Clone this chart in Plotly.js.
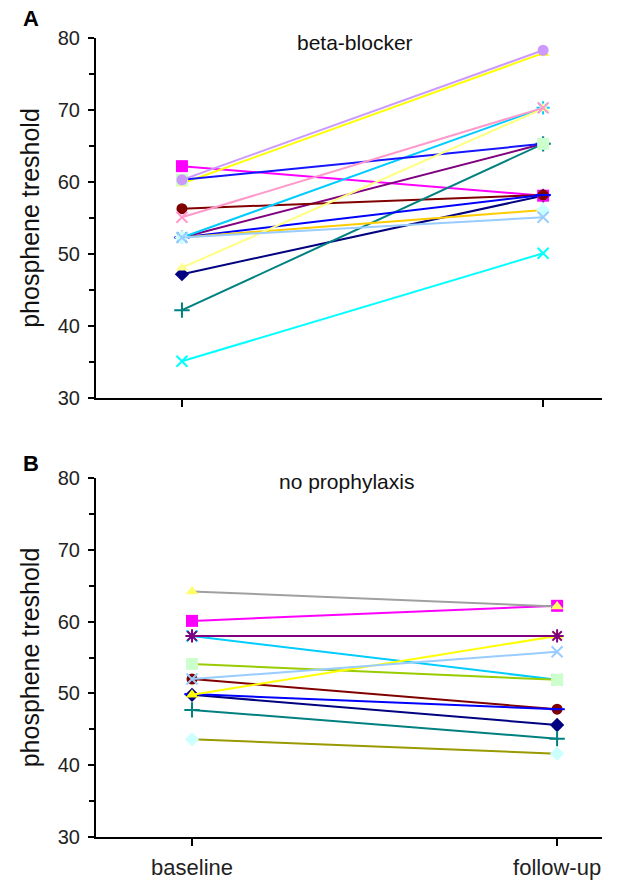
<!DOCTYPE html>
<html>
<head>
<meta charset="utf-8">
<script src="https://cdn.plot.ly/plotly-3.0.1.min.js"></script>
<style>html,body{margin:0;padding:0;background:#fff;}#chart{width:632px;height:882px;}</style>
</head>
<body>
<div id="chart"></div>
<script>
// ---- data ----
const categories = ['baseline', 'follow-up'];
const panelTitles = ['beta-blocker', 'no prophylaxis'];
const panelLetters = ['A', 'B'];
const yAxisTitle = 'phosphene treshold';

// Panel A: beta-blocker (baseline, follow-up) per subject
const betaBaseline = [47.2, 62.2, 59.8, 35.1, 52.3, 56.3, 42.2, 52.3, 52.3, 52.3, 60.3, 48.1, 52.3, 55.1, 60.3];
const betaFollowUp = [58.1, 58.1, 77.9, 50.1, 65.3, 58.2, 65.3, 58.2, 70.3, 56.1, 65.3, 70.2, 55.1, 70.3, 78.3];

// Panel B: no prophylaxis
const noProBaseline = [49.8, 60.1, 64.2, 58.0, 52.0, 47.7, 49.9, 54.1, 49.8, 58.0, 52.0, 43.6];
const noProFollowUp = [45.6, 62.2, 62.1, 51.9, 47.8, 43.7, 47.8, 51.9, 58.0, 58.0, 55.8, 41.6];

// ---- styles ----
const betaLine = ['#000080','#FF00FF','#FFFF00','#00FFFF','#800080','#800000','#008080','#0000FF','#00CCFF','#FFCC00','#1515FF','#FFFF80','#99CCFF','#FF99CC','#CC99FF'];
const betaSym  = ['diamond','square','triangle-up','x-thin-open','asterisk-open','circle','cross-thin-open','line-ew-open','asterisk-open','diamond','square','triangle-up','x-thin-open','x-thin-open','circle'];
const betaMk   = ['#000080','#FF00FF','#FFFF00','#00FFFF','#800080','#800000','#008080','#0000FF','#00CCFF','#CCFFFF','#CCFFCC','#FFFF99','#99CCFF','#FF99CC','#CC99FF'];

const noProLine = ['#000080','#FF00FF','#A0A0A0','#00CCFF','#800000','#008080','#0000FF','#99CC00','#FFFF00','#800080','#99CCFF','#999900'];
const noProSym  = ['diamond','square','triangle-up','x-thin-open','circle','cross-thin-open','line-ew-open','square','triangle-up','asterisk-open','x-thin-open','diamond'];
const noProMk   = ['#000080','#FF00FF','#FFFF66','#00CCFF','#800000','#008080','#0000FF','#CCFFCC','#FFFF00','#800080','#99CCFF','#CCFFFF'];

const FONT = 'Liberation Sans, Arial, Helvetica, sans-serif';
const traces = [];
function addPanel(base, follow, lineCols, syms, mkCols, xa, ya) {
  for (let i = 0; i < base.length; i++) {
    const open = syms[i].indexOf('open') >= 0;
    const big = (syms[i] === 'square') ? 12 : 11;
    traces.push({
      type: 'scatter', mode: 'lines+markers',
      x: [0, 1], y: [base[i], follow[i]],
      xaxis: xa, yaxis: ya,
      line: {color: lineCols[i], width: 2},
      marker: {symbol: syms[i], size: open ? 11 : big, color: mkCols[i],
               line: {color: mkCols[i], width: open ? 2 : 0}},
      hoverinfo: 'skip', showlegend: false
    });
  }
}
addPanel(betaBaseline, betaFollowUp, betaLine, betaSym, betaMk, 'x', 'y');
addPanel(noProBaseline, noProFollowUp, noProLine, noProSym, noProMk, 'x2', 'y2');

const W = 632, H = 882;
const xDom = [96 / W, 602 / W];
const yDomA = [1 - 398 / H, 1 - 38 / H];
const yDomB = [1 - 837 / H, 1 - 478 / H];

function yAxis(dom, anchor) {
  return {
    domain: dom, anchor: anchor, range: [30, 80], dtick: 10, tick0: 30,
    ticks: 'outside', ticklen: 6, tickwidth: 2, tickcolor: '#000',
    minor: {dtick: 5, ticks: 'outside', ticklen: 5, tickwidth: 2, tickcolor: '#000', showgrid: false},
    showline: true, linecolor: '#000', linewidth: 2,
    showgrid: false, zeroline: false, fixedrange: true,
    tickfont: {family: FONT, size: 20, color: '#222'},
    ticklabelstandoff: 4,
    title: {text: yAxisTitle, font: {family: FONT, size: 25, color: '#111'}, standoff: 11}
  };
}
function xAxis(dom, anchor, range, labels) {
  return {
    domain: dom, anchor: anchor, range: range,
    tickmode: 'array', tickvals: [0, 1], ticktext: labels,
    ticks: 'outside', ticklen: 7, tickwidth: 2, tickcolor: '#000',
    showline: true, linecolor: '#000', linewidth: 2,
    showgrid: false, zeroline: false, fixedrange: true,
    tickfont: {family: FONT, size: 22, color: '#222'},
    ticklabelstandoff: 3
  };
}

const layout = {
  width: W, height: H,
  margin: {l: 0, r: 0, t: 0, b: 0, pad: 0},
  paper_bgcolor: '#fff', plot_bgcolor: '#fff',
  showlegend: false,
  xaxis: xAxis(xDom, 'y', [-0.238, 1.163], ['', '']),
  yaxis: yAxis(yDomA, 'x'),
  xaxis2: xAxis(xDom, 'y2', [-0.263, 1.123], categories),
  yaxis2: yAxis(yDomB, 'x2'),
  annotations: [
    {text: panelTitles[0], xref: 'paper', yref: 'paper', x: 355 / W, y: 1 - 42 / H,
     xanchor: 'center', yanchor: 'middle', showarrow: false, font: {family: FONT, size: 21, color: '#111'}},
    {text: panelTitles[1], xref: 'paper', yref: 'paper', x: 346 / W, y: 1 - 481 / H,
     xanchor: 'center', yanchor: 'middle', showarrow: false, font: {family: FONT, size: 21, color: '#111'}},
    {text: '<b>' + panelLetters[0] + '</b>', xref: 'paper', yref: 'paper', x: 31 / W, y: 1 - 18 / H,
     xanchor: 'center', yanchor: 'middle', showarrow: false, font: {family: FONT, size: 22, color: '#000'}},
    {text: '<b>' + panelLetters[1] + '</b>', xref: 'paper', yref: 'paper', x: 31 / W, y: 1 - 463 / H,
     xanchor: 'center', yanchor: 'middle', showarrow: false, font: {family: FONT, size: 22, color: '#000'}}
  ]
};

Plotly.newPlot('chart', traces, layout, {staticPlot: true, displayModeBar: false});
</script>
</body>
</html>
